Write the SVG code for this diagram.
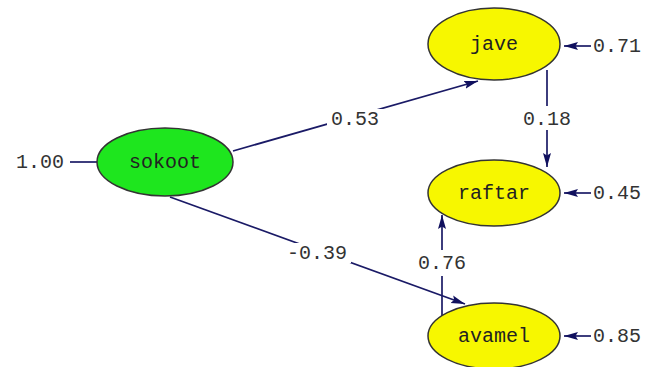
<svg xmlns="http://www.w3.org/2000/svg" width="648" height="367" viewBox="0 0 648 367">
<style>
.lbl{font-family:"Liberation Mono","Courier New",monospace;font-size:20px;fill:#333;text-anchor:middle;dominant-baseline:central}
.nt{font-family:"Liberation Mono","Courier New",monospace;font-size:20px;fill:#222;text-anchor:middle;dominant-baseline:central}
.edge{stroke:#1a1a66;stroke-width:1.7;fill:none}
.bg{fill:#fff}
.node{stroke:#333;stroke-width:1.5}
</style>
<defs>
<marker id="arr" markerUnits="userSpaceOnUse" markerWidth="15" markerHeight="10" refX="14" refY="5" orient="auto">
<path d="M0,1 L14,5 L0,9 L2.5,5 z" fill="#10105e"/>
</marker>
</defs>
<rect width="648" height="367" fill="#fff"/>
<g id="connectors">
<path class="edge" d="M70,162 L97,162"/>
<path class="edge" d="M233,151 L478,81" marker-end="url(#arr)"/>
<path class="edge" d="M170,197 L465,304" marker-end="url(#arr)"/>
<path class="edge" d="M547,70 L547,167" marker-end="url(#arr)"/>
<path class="edge" d="M442,316 L442,215" marker-end="url(#arr)"/>
<path class="edge" d="M591,46 L564,46" marker-end="url(#arr)"/>
<path class="edge" d="M591,193 L564,193" marker-end="url(#arr)"/>
<path class="edge" d="M591,336 L564,336" marker-end="url(#arr)"/>
<rect class="bg" x="327" y="109" width="56" height="20"/>
<text class="lbl" x="355" y="119">0.53</text>
<rect class="bg" x="283" y="243" width="68" height="20"/>
<text class="lbl" x="317" y="253">-0.39</text>
<rect class="bg" x="519" y="106" width="56" height="24"/>
<text class="lbl" x="547" y="119">0.18</text>
<rect class="bg" x="414" y="250" width="56" height="26"/>
<text class="lbl" x="442" y="263">0.76</text>
<text class="lbl" x="40" y="162">1.00</text>
<text class="lbl" x="617" y="46">0.71</text>
<text class="lbl" x="617" y="193">0.45</text>
<text class="lbl" x="617" y="336">0.85</text>
</g>
<g id="sokoot">
<ellipse class="node" cx="165" cy="162" rx="68" ry="34" fill="#1ee61e"/>
<text class="nt" x="165" y="162">sokoot</text>
</g>
<g id="jave">
<ellipse class="node" cx="494" cy="44" rx="66" ry="36" fill="#f7f700"/>
<text class="nt" x="494" y="44">jave</text>
</g>
<g id="raftar">
<ellipse class="node" cx="494" cy="193" rx="66" ry="33" fill="#f7f700"/>
<text class="nt" x="494" y="193">raftar</text>
</g>
<g id="avamel">
<ellipse class="node" cx="494" cy="336" rx="66" ry="33" fill="#f7f700"/>
<text class="nt" x="494" y="336">avamel</text>
</g>
</svg>
